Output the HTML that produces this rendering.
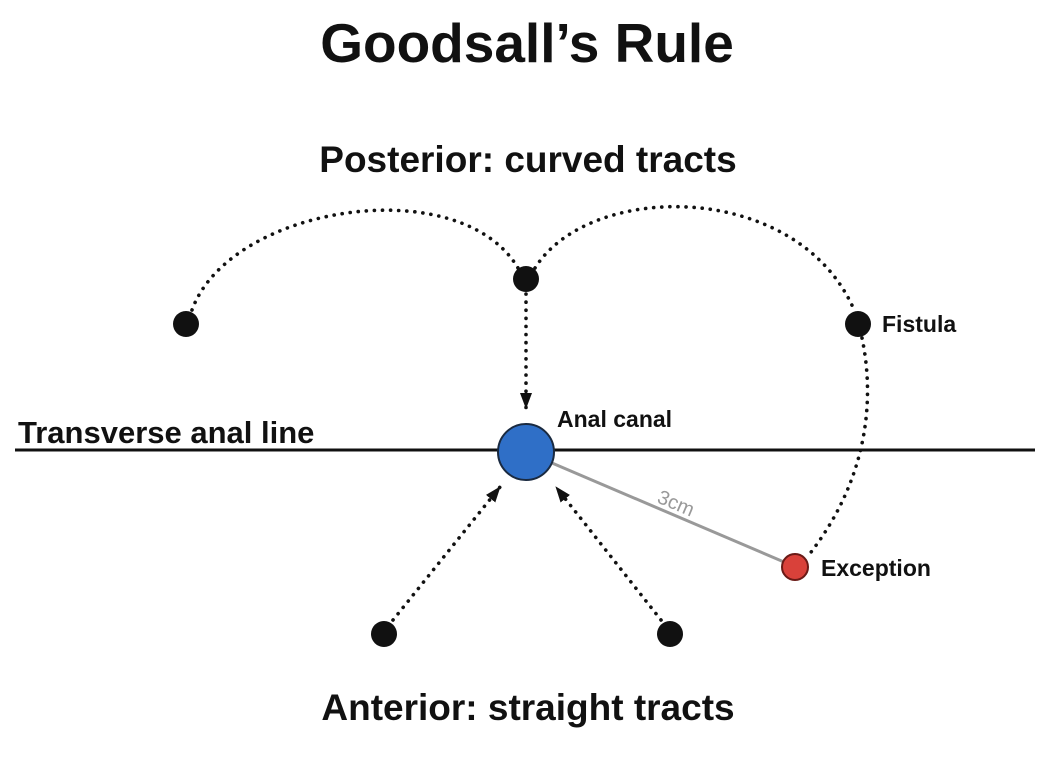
<!DOCTYPE html>
<html><head><style>
body{margin:0;background:#fff;width:1050px;height:762px;overflow:hidden}
svg text{font-family:"Liberation Sans",Arial,sans-serif;font-weight:bold;fill:#111}
</style></head><body>
<svg width="1050" height="762" viewBox="0 0 1050 762">
<defs><marker id="a" markerWidth="16" markerHeight="14" refX="15" refY="6" orient="auto" markerUnits="userSpaceOnUse"><path d="M0,0 L16,6 L0,12 z" fill="#111"/></marker></defs>
<text x="527" y="62" font-size="55" text-anchor="middle">Goodsall’s Rule</text>
<text x="528" y="172" font-size="37" text-anchor="middle">Posterior: curved tracts</text>
<text x="528" y="720" font-size="37" text-anchor="middle">Anterior: straight tracts</text>
<text x="18" y="443" font-size="31">Transverse anal line</text>
<line x1="15" y1="450" x2="1035" y2="450" stroke="#111" stroke-width="3"/>
<g fill="none" stroke="#111" stroke-width="3.6" stroke-dasharray="0.1 8" stroke-linecap="round">
<path d="M192,310 C230,205 460,170 518,268"/>
<path d="M535,268 C590,180 800,180 855,312"/>
<path d="M862,338 C875,400 868,480 808,556"/>
<path d="M526,294 L526,408" marker-end="url(#a)"/>
<path d="M393,620 L500,487" marker-end="url(#a)"/>
<path d="M661,620 L556,487" marker-end="url(#a)"/>
</g>
<line x1="552" y1="463" x2="784" y2="562" stroke="#999" stroke-width="3"/>
<text x="0" y="0" font-size="20" style="font-weight:normal;fill:#999" transform="translate(656,502) rotate(23)">3cm</text>
<circle cx="526" cy="452" r="28" fill="#2f6fc7" stroke="#1a2a40" stroke-width="2"/>
<circle cx="795" cy="567" r="13" fill="#d9413a" stroke="#6a1a16" stroke-width="2"/>
<circle cx="186" cy="324" r="13" fill="#111"/>
<circle cx="526" cy="279" r="13" fill="#111"/>
<circle cx="858" cy="324" r="13" fill="#111"/>
<circle cx="384" cy="634" r="13" fill="#111"/>
<circle cx="670" cy="634" r="13" fill="#111"/>
<text x="557" y="427" font-size="23">Anal canal</text>
<text x="882" y="332" font-size="23">Fistula</text>
<text x="821" y="576" font-size="23">Exception</text>
</svg>
</body></html>
